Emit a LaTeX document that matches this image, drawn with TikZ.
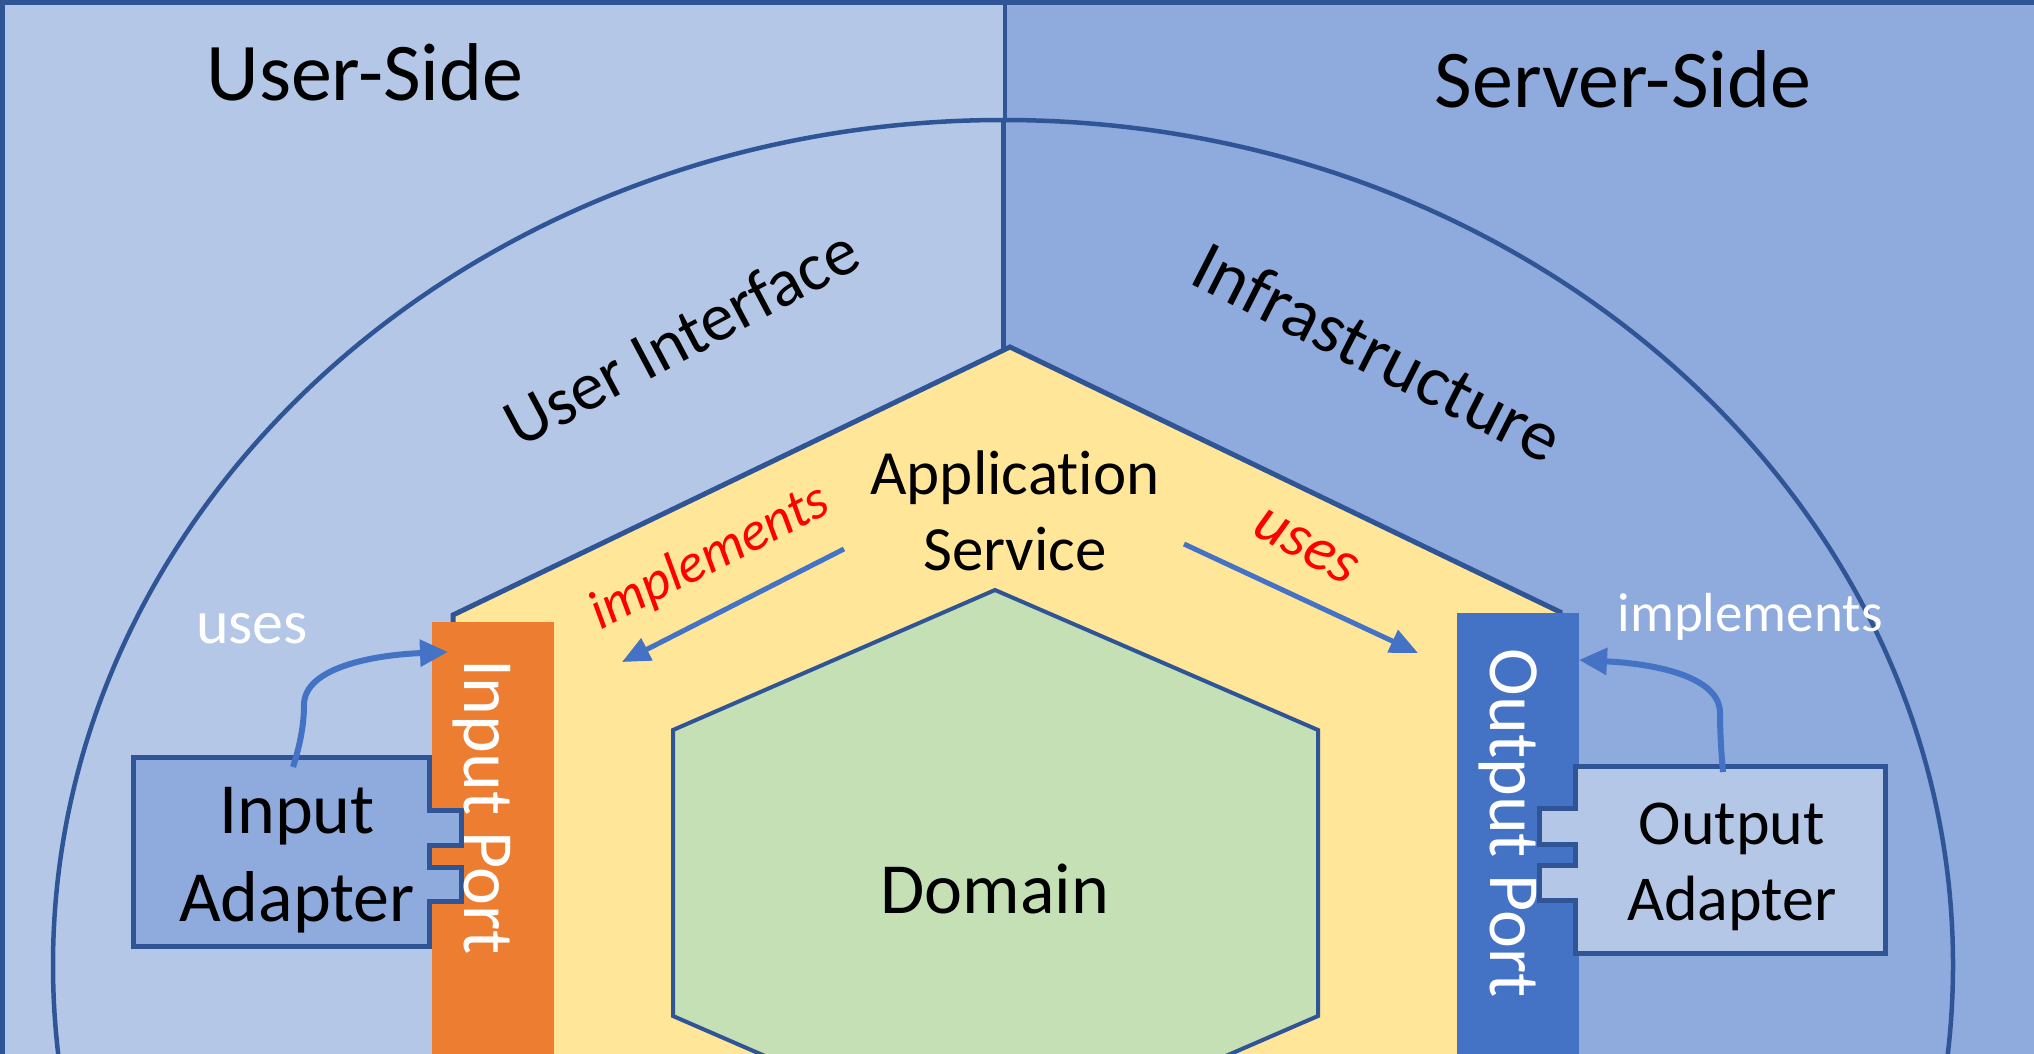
\documentclass[tikz,border=0pt]{standalone}
\usepackage{fontspec}
\setmainfont{Carlito}[Ligatures=CommonOff]
\usetikzlibrary{arrows.meta}
\definecolor{lightbg}{HTML}{B4C7E7}
\definecolor{midbg}{HTML}{8FAADC}
\definecolor{edgeblue}{HTML}{2F5597}
\definecolor{appfill}{HTML}{FFE699}
\definecolor{domfill}{HTML}{C5E0B4}
\definecolor{inportc}{HTML}{ED7D31}
\definecolor{outportc}{HTML}{4472C4}
\definecolor{arrowc}{HTML}{4472C4}
\newcommand{\fsz}[2]{\fontsize{#1pt}{#2pt}\selectfont}
\begin{document}
\begin{tikzpicture}[x=1pt,y=-1pt,
  lbl/.style={inner sep=0pt, outer sep=0pt},
  outline/.style={draw=edgeblue, line width=5pt, line join=miter},
  flowcurve/.style={draw=arrowc, line width=6pt, -{Triangle[length=28pt,width=26pt]}},
  flowline/.style={draw=arrowc, line width=5pt, -{Triangle[length=28pt,width=24pt]}},
]
\useasboundingbox (0,0) rectangle (2034,1054);
\clip (0,0) rectangle (2034,1054);
% backgrounds
\fill[lightbg] (0,0) rectangle (1004,1054);
\fill[midbg] (1004,0) rectangle (2034,1054);
% outer border (top and left)
\draw[edgeblue, line width=5pt] (2.5,1060) -- (2.5,2.5) -- (2040,2.5);
% top divider
\draw[edgeblue, line width=4pt] (1005,0) -- (1005,121);
% big ellipse
\draw[edgeblue, line width=4.5pt] (1003,965) ellipse [x radius=950pt, y radius=845pt];
% inner divider
\draw[edgeblue, line width=5pt] (1003,120) -- (1003,349);
% application hexagon
\path[outline, fill=appfill] (1010,347) -- (1560,612) -- (1560,1300) -- (1010,1565) -- (453,1300) -- (453,615) -- cycle;
% domain hexagon
\path[outline, line width=4pt, fill=domfill] (995,590) -- (1318,730) -- (1318,1016) -- (995,1156) -- (673,1016) -- (673,730) -- cycle;
% ports
\fill[inportc] (432,622) rectangle (554,1060);
\fill[outportc] (1457,613) rectangle (1579,1060);
% adapters
\path[outline, fill=midbg] (133,757) -- (429,757) -- (429,810) -- (461,810) -- (461,845) -- (429,845) -- (429,867) -- (461,867) -- (461,901) -- (429,901) -- (429,946) -- (133,946) -- cycle;
\path[outline, fill=lightbg] (1575,766) -- (1885,766) -- (1885,953) -- (1575,953) -- (1575,900) -- (1539,900) -- (1539,865) -- (1575,865) -- (1575,844) -- (1539,844) -- (1539,808) -- (1575,808) -- cycle;
% texts
\node[lbl, anchor=base, font=\fsz{82}{98}] (userside) at (365,101) {User-Side};
\node[lbl, anchor=base, font=\fsz{82}{98}] (serverside) at (1623,108) {Server-Side};
\node[lbl, rotate=28, font=\fsz{68}{80}] (ui) at (681,337) {User Interface};
\node[lbl, rotate=-27, font=\fsz{72}{86}] (infra) at (1378,352) {Infrastructure};
\node[lbl, align=center, font=\fsz{63}{76}] (appsvc) at (1015,511) {Application\\Service};
\node[lbl, font=\fsz{72}{86}] (domain) at (995,889) {Domain};
\node[lbl, rotate=-90, text=white, font=\fsz{72}{86}] (inport) at (482,807) {Input Port};
\node[lbl, rotate=-90, text=white, font=\fsz{72}{86}] (outport) at (1508,823) {Output Port};
\node[lbl, align=center, font=\fsz{72}{88}] (inadapter) at (297,860) {Input\\Adapter};
\node[lbl, align=center, font=\fsz{64}{76}] (outadapter) at (1732,867) {Output\\Adapter};
\node[lbl, anchor=base, text=white, font=\fsz{62}{74}] (usesout) at (252,643) {uses};
\node[lbl, anchor=base, text=white, font=\fsz{55}{66}] (implout) at (1750,631) {implements};
\node[lbl, rotate=27, text=red, font=\fsz{55}{66}\itshape] (implin) at (710,558) {implements};
\node[lbl, rotate=-29, text=red, font=\fsz{62}{74}\itshape] (usesin) at (1306,547) {uses};
% connector endpoints
\coordinate (inadTop) at (293,767);
\coordinate (inportHit) at (448,652);
\coordinate (outadTop) at (1723,772);
\coordinate (outportHit) at (1579,660);
\coordinate (svcLeft) at (844,549);
\coordinate (inportIn) at (622,662);
\coordinate (svcRight) at (1184,544);
\coordinate (outportIn) at (1418,653);
% arrows
\draw[flowcurve] (inadTop) .. controls (300,745) and (304,725) .. (304,705) .. controls (304,668) and (372,655) .. (inportHit);
\draw[flowcurve] (outadTop) .. controls (1721,750) and (1720,730) .. (1720,713) .. controls (1720,678) and (1660,664) .. (outportHit);
\draw[flowline] (svcLeft) -- (inportIn);
\draw[flowline] (svcRight) -- (outportIn);
\end{tikzpicture}
\end{document}
